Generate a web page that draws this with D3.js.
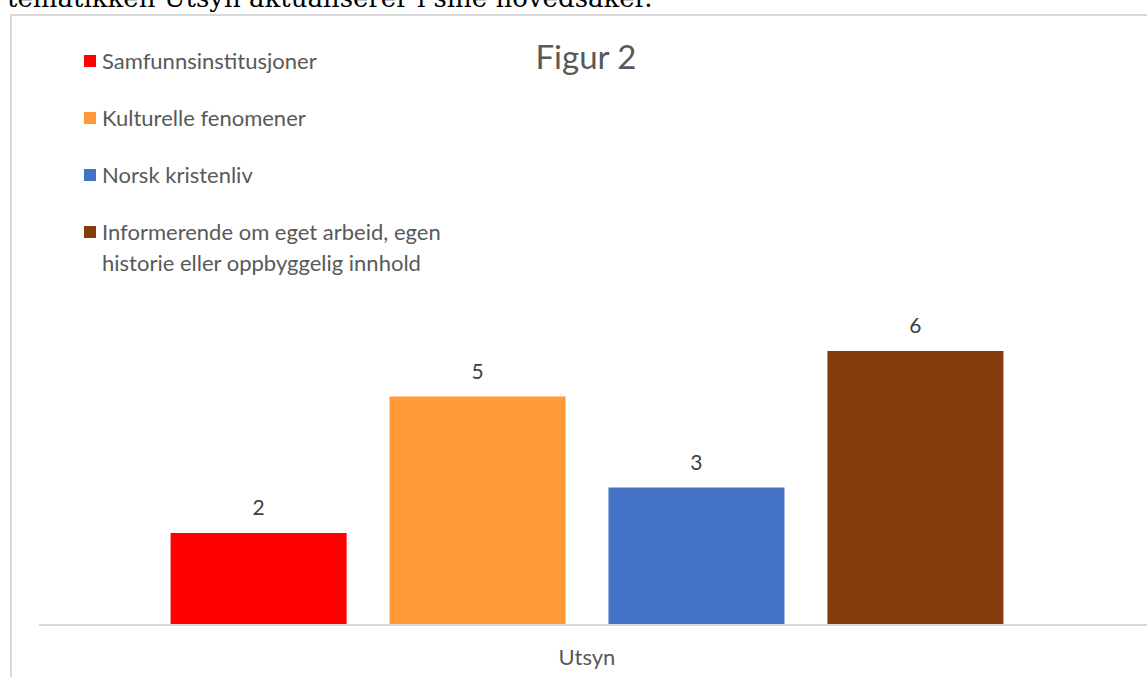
<!DOCTYPE html>
<html>
<head>
<meta charset="utf-8">
<script src="https://cdn.jsdelivr.net/npm/d3@7"></script>
<style>
  body { margin: 0; background: #fff; }
  svg { display: block; }
</style>
</head>
<body>
<svg id="chart" width="1147" height="677"></svg>
<script>
// data
let categories = ["Utsyn"]
let series = ["Samfunnsinstitusjoner", "Kulturelle fenomener", "Norsk kristenliv", "Informerende om eget arbeid, egen historie eller oppbyggelig innhold"]
let values = [2, 5, 3, 6]
let colors = ["#ff0000", "#ff9a36", "#4472c4", "#843c0c"]
let legendLines = [["Samfunnsinstitusjoner"], ["Kulturelle fenomener"], ["Norsk kristenliv"], ["Informerende om eget arbeid, egen", "historie eller oppbyggelig innhold"]]

let svg = d3.select("#chart")
let font = "Lato, 'Open Sans', sans-serif"

// cut-off line of body text above the chart frame
svg.append("text")
    .attr("x", 7).attr("y", 7)
    .attr("font-family", "'DejaVu Serif', serif")
    .attr("font-size", 26)
    .attr("fill", "#000")
    .text("tematikken Utsyn aktualiserer i sine hovedsaker.")

// chart frame
svg.append("path")
    .attr("d", "M11,677 V15 H1147")
    .attr("fill", "none")
    .attr("stroke", "#d9d9d9")
    .attr("stroke-width", 2)

let plot = { left: 39, right: 1135, top: 305.5, bottom: 624 }

let x0 = d3.scaleBand()
    .domain(categories)
    .range([plot.left, plot.right])
    .paddingInner(0)
    .paddingOuter(0.158)

let x1 = d3.scaleBand()
    .domain(series)
    .range([x0(categories[0]), x0(categories[0]) + x0.bandwidth()])
    .paddingInner(0.196)
    .paddingOuter(0)

let y = d3.scaleLinear()
    .domain([0, 7])
    .range([plot.bottom, plot.top])

let bars = series.map((s, i) => ({ series: s, value: values[i], color: colors[i] }))

svg.selectAll(".bar")
    .data(bars)
    .enter()
    .append("rect")
        .attr("class", "bar")
        .attr("x", d => x1(d.series))
        .attr("y", d => y(d.value))
        .attr("width", x1.bandwidth())
        .attr("height", d => y(0) - y(d.value))
        .attr("fill", d => d.color)

svg.selectAll(".val")
    .data(bars)
    .enter()
    .append("text")
        .attr("class", "val")
        .attr("x", d => x1(d.series) + x1.bandwidth()/2)
        .attr("y", d => y(d.value) - 18)
        .attr("text-anchor", "middle")
        .attr("font-family", font)
        .attr("font-size", 21)
        .attr("fill", "#404040")
        .text(d => d.value)

// category axis
svg.append("line")
    .attr("x1", plot.left).attr("x2", 1147)
    .attr("y1", y(0) + 1).attr("y2", y(0) + 1)
    .attr("stroke", "#d9d9d9")
    .attr("stroke-width", 2)

svg.selectAll(".cat")
    .data(categories)
    .enter()
    .append("text")
        .attr("class", "cat")
        .attr("x", d => x0(d) + x0.bandwidth()/2)
        .attr("y", 665)
        .attr("text-anchor", "middle")
        .attr("font-family", font)
        .attr("font-size", 22)
        .attr("fill", "#595959")
        .text(d => d)

// title
svg.append("text")
    .attr("x", 586).attr("y", 69)
    .attr("text-anchor", "middle")
    .attr("font-family", font)
    .attr("font-size", 33)
    .attr("fill", "#595959")
    .text("Figur 2")

// legend
let legendY = [61, 118, 175, 232]
let legend = svg.selectAll(".leg")
    .data(bars)
    .enter()
    .append("g")
        .attr("class", "leg")
        .attr("transform", (d, i) => `translate(84,${legendY[i]})`)

legend.append("rect")
    .attr("x", 0).attr("y", -6)
    .attr("width", 12).attr("height", 12)
    .attr("fill", d => d.color)

legend.append("text")
    .attr("font-family", font)
    .attr("font-size", 22)
    .attr("fill", "#595959")
    .selectAll("tspan")
    .data((d, i) => legendLines[i])
    .enter()
    .append("tspan")
        .attr("x", 18)
        .attr("y", (t, j) => 8 + j * 31)
        .text(t => t)
</script>
</body>
</html>
